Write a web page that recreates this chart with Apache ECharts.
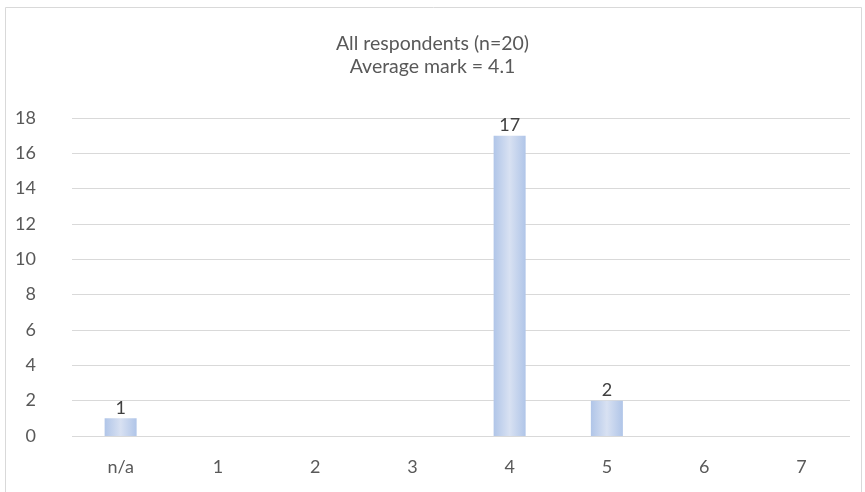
<!DOCTYPE html>
<html><head><meta charset="utf-8">
<script src="https://cdn.jsdelivr.net/npm/echarts@6/dist/echarts.min.js"></script>
<style>html,body{margin:0;padding:0;background:#fff}#c{width:865px;height:492px}</style>
</head><body><div id="c"></div>
<script>
const categories = ['n/a', '1', '2', '3', '4', '5', '6', '7'];
const counts = [1, 0, 0, 0, 17, 2, 0, 0];
const titleLines = ['All respondents (n=20)', 'Average mark = 4.1'];
const yTicks = { min: 0, max: 18, interval: 2 };

const chart = echarts.init(document.getElementById('c'));
const font = 'Lato, "Open Sans", sans-serif';
chart.setOption({
  animation: false,
  title: {
    text: titleLines.join('\n'),
    left: 'center', top: 27,
    textStyle: { fontFamily: font, fontSize: 19.5, fontWeight: 'normal', color: '#595959', lineHeight: 23 }
  },
  graphic: [{
    type: 'rect', shape: { x: 5.5, y: 7.5, width: 856, height: 500 },
    style: { fill: 'none', stroke: '#d9d9d9', lineWidth: 1 }, silent: true
  }],
  grid: { left: 72, right: 15, top: 118, bottom: 56, containLabel: false },
  xAxis: {
    type: 'category', data: categories,
    axisLine: { show: false }, axisTick: { show: false },
    axisLabel: { fontFamily: font, fontSize: 18, color: '#595959', margin: 22 }
  },
  yAxis: {
    type: 'value', min: yTicks.min, max: yTicks.max, interval: yTicks.interval,
    axisLine: { show: false }, axisTick: { show: false },
    axisLabel: { fontFamily: font, fontSize: 18, color: '#595959', margin: 36 },
    splitLine: { lineStyle: { color: '#d9d9d9', width: 1 } }
  },
  series: [{
    type: 'bar', data: counts, barWidth: 32,
    itemStyle: {
      color: new echarts.graphic.LinearGradient(0, 0, 1, 0, [
        { offset: 0, color: '#b0c5e8' },
        { offset: 0.5, color: '#d8e1f2' },
        { offset: 1, color: '#b0c5e8' }
      ])
    },
    label: {
      show: true, position: 'top', distance: 1,
      fontFamily: font, fontSize: 18, color: '#404040',
      formatter: p => p.value > 0 ? p.value : ''
    }
  }]
});
</script></body></html>
